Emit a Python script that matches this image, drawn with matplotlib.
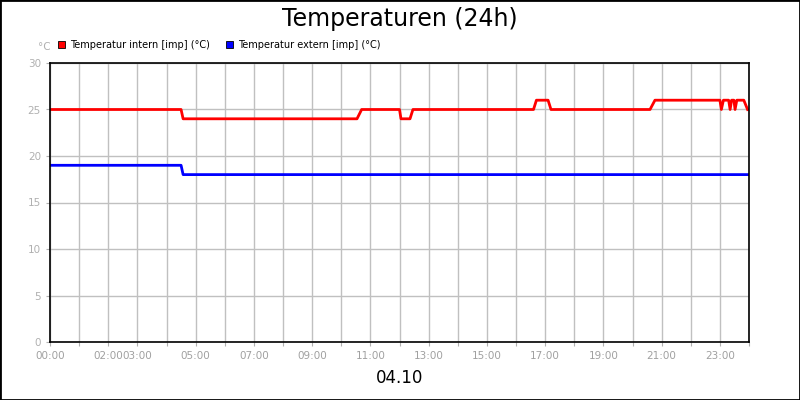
import matplotlib
matplotlib.use("Agg")
import matplotlib.pyplot as plt
from matplotlib.patches import Rectangle

# time in hours, values in °C
t_intern = [0, 4.5, 4.57, 10.54, 10.7, 12.0, 12.05, 12.36, 12.46, 16.6, 16.7, 17.1, 17.2,
            20.6, 20.77, 23.0, 23.05, 23.12, 23.3, 23.35, 23.4, 23.48, 23.52, 23.58, 23.82, 23.95]
v_intern = [25, 25, 24, 24, 25, 25, 24, 24, 25, 25, 26, 26, 25,
            25, 26, 26, 25, 26, 26, 25, 26, 26, 25, 26, 26, 25]
t_extern = [0, 4.5, 4.57, 23.95]
v_extern = [19, 19, 18, 18]
tick_hours = [0, 2, 3, 5, 7, 9, 11, 13, 15, 17, 19, 21, 23]
tick_labels = ["00:00", "02:00", "03:00", "05:00", "07:00", "09:00", "11:00",
               "13:00", "15:00", "17:00", "19:00", "21:00", "23:00"]
yticks = [0, 5, 10, 15, 20, 25, 30]

fig = plt.figure(figsize=(8, 4), dpi=100)
fig.patches.append(Rectangle((0, 0), 1, 1, transform=fig.transFigure, fill=False,
                             edgecolor="black", linewidth=2))
ax = fig.add_axes([0.0625, 0.145, 0.8738, 0.6975])
ax.plot(t_intern, v_intern, color="#ff0000", lw=2)
ax.plot(t_extern, v_extern, color="#0000ff", lw=2)
ax.set_xlim(0, 24)
ax.set_ylim(0, 30)
ax.set_xticks(range(25), minor=False)
ax.set_xticklabels([tick_labels[tick_hours.index(h)] if h in tick_hours else "" for h in range(25)])
ax.set_yticks(yticks)
ax.grid(True, color="#c0c0c0", lw=1)
ax.set_axisbelow(True)
ax.tick_params(colors="#b0b0b0", labelsize=7.5, length=3)
ax.tick_params(axis="x", labelcolor="#a0a0a0")
for s in ax.spines.values():
    s.set_color("black"); s.set_linewidth(1.2)

fig.text(0.5, 0.953, "Temperaturen (24h)", ha="center", va="center", fontsize=17)
fig.text(0.5, 0.055, "04.10", ha="center", va="center", fontsize=12)
fig.text(0.047, 0.882, "°C", ha="left", va="center", fontsize=7.5, color="#b0b0b0")
fig.patches.append(Rectangle((58/800, 1-48/400), 7/800, 7/400, transform=fig.transFigure,
                             facecolor="#ff0000", edgecolor="black", lw=0.6))
fig.text(70/800, 1-44.5/400, "Temperatur intern [imp] (°C)", fontsize=7, va="center")
fig.patches.append(Rectangle((226/800, 1-48/400), 7/800, 7/400, transform=fig.transFigure,
                             facecolor="#0000ff", edgecolor="black", lw=0.6))
fig.text(238/800, 1-44.5/400, "Temperatur extern [imp] (°C)", fontsize=7, va="center")
fig.savefig("out.png", dpi=100)
